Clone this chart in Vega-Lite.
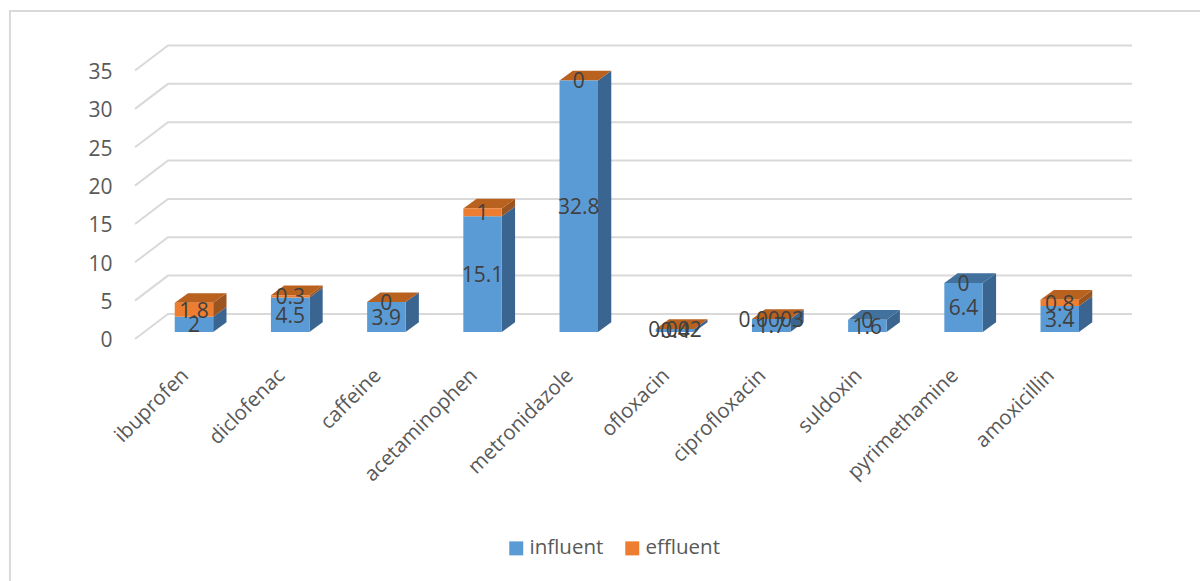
{
  "$schema": "https://vega.github.io/schema/vega-lite/v6.json",
  "width": 997,
  "height": 293,
  "autosize": "none",
  "padding": {"left": 135, "top": 46, "right": 68, "bottom": 242},
  "background": "white",
  "config": {"font": "Open Sans", "view": {"stroke": null}},
  "data": {"values": [
    {"drug": "ibuprofen", "order": 0, "series": "influent", "value": 2},
    {"drug": "ibuprofen", "order": 0, "series": "effluent", "value": 1.8},
    {"drug": "diclofenac", "order": 1, "series": "influent", "value": 4.5},
    {"drug": "diclofenac", "order": 1, "series": "effluent", "value": 0.3},
    {"drug": "caffeine", "order": 2, "series": "influent", "value": 3.9},
    {"drug": "caffeine", "order": 2, "series": "effluent", "value": 0},
    {"drug": "acetaminophen", "order": 3, "series": "influent", "value": 15.1},
    {"drug": "acetaminophen", "order": 3, "series": "effluent", "value": 1},
    {"drug": "metronidazole", "order": 4, "series": "influent", "value": 32.8},
    {"drug": "metronidazole", "order": 4, "series": "effluent", "value": 0},
    {"drug": "ofloxacin", "order": 5, "series": "influent", "value": 0.4},
    {"drug": "ofloxacin", "order": 5, "series": "effluent", "value": 0.002},
    {"drug": "ciprofloxacin", "order": 6, "series": "influent", "value": 1.7},
    {"drug": "ciprofloxacin", "order": 6, "series": "effluent", "value": 0.0003},
    {"drug": "suldoxin", "order": 7, "series": "influent", "value": 1.6},
    {"drug": "suldoxin", "order": 7, "series": "effluent", "value": 0},
    {"drug": "pyrimethamine", "order": 8, "series": "influent", "value": 6.4},
    {"drug": "pyrimethamine", "order": 8, "series": "effluent", "value": 0},
    {"drug": "amoxicillin", "order": 9, "series": "influent", "value": 3.4},
    {"drug": "amoxicillin", "order": 9, "series": "effluent", "value": 0.8}
  ]},
  "encoding": {
    "x": {
      "field": "xpos",
      "type": "quantitative",
      "scale": {"domain": [-0.613, 9.751], "nice": false, "zero": false},
      "axis": {
        "title": null,
        "values": [0, 1, 2, 3, 4, 5, 6, 7, 8, 9],
        "labelExpr": "['ibuprofen','diclofenac','caffeine','acetaminophen','metronidazole','ofloxacin','ciprofloxacin','suldoxin','pyrimethamine','amoxicillin'][datum.value]",
        "labelAngle": -45,
        "labelAlign": "right",
        "labelBaseline": "middle",
        "labelPadding": 33,
        "labelOffset": -9,
        "labelFontSize": 20.5,
        "labelColor": "#595959",
        "labelOverlap": false,
        "labelBound": false,
        "labelFlush": false,
        "domain": false,
        "ticks": false,
        "grid": false
      }
    },
    "y": {
      "field": "ypos",
      "type": "quantitative",
      "scale": {"domain": [-0.913, 37.288], "nice": false, "zero": false},
      "axis": {
        "title": null,
        "values": [0, 5, 10, 15, 20, 25, 30, 35],
        "labelPadding": 23,
        "labelOffset": 9,
        "labelFontSize": 21,
        "labelColor": "#595959",
        "labelOverlap": false,
        "labelBound": false,
        "labelFlush": false,
        "domain": false,
        "ticks": false,
        "grid": false
      }
    }
  },
  "layer": [
    {
      "description": "Chart frame, open at the right and bottom",
      "data": {"values": [{"corner": 0}, {"corner": 1}, {"corner": 2}]},
      "transform": [
        {"calculate": "[-1.913, -1.913, 10.46][datum.corner]", "as": "xpos"},
        {"calculate": "[-32.46, 41.85, 41.85][datum.corner]", "as": "ypos"}
      ],
      "mark": {"type": "line", "stroke": "#D9D9D9", "strokeWidth": 2, "clip": false},
      "encoding": {"order": {"field": "corner"}}
    },
    {
      "description": "Gridlines running along the side wall and then the back wall",
      "data": {"values": [{"tick": 0}, {"tick": 5}, {"tick": 10}, {"tick": 15}, {"tick": 20}, {"tick": 25}, {"tick": 30}, {"tick": 35}]},
      "transform": [
        {"calculate": "[0, 1, 2]", "as": "corner"},
        {"flatten": ["corner"]},
        {"calculate": "[-0.613, -0.27, 9.751][datum.corner]", "as": "xpos"},
        {"calculate": "datum.tick + [-0.913, 2.35, 2.35][datum.corner]", "as": "ypos"}
      ],
      "mark": {"type": "line", "stroke": "#D9D9D9", "strokeWidth": 2},
      "encoding": {
        "detail": {"field": "tick"},
        "order": {"field": "corner"}
      }
    },
    {
      "description": "Stacked blocks: front, side and top faces plus value labels",
      "transform": [
        {"stack": "value", "groupby": ["drug"], "sort": [{"field": "series", "order": "descending"}], "as": ["low", "high"]}
      ],
      "encoding": {
        "color": {
          "field": "face",
          "type": "nominal",
          "scale": {
            "domain": ["influent", "effluent", "influent side", "effluent side", "influent top", "effluent top"],
            "range": ["#5B9BD5", "#ED7D31", "#3A6590", "#9C5421", "#41719C", "#B9611F"]
          },
          "legend": {
            "title": null,
            "values": ["influent", "effluent"],
            "orient": "none",
            "direction": "horizontal",
            "legendX": 371,
            "legendY": 492,
            "symbolType": "square",
            "symbolSize": 196,
            "symbolStrokeWidth": 0,
            "symbolOpacity": 1,
            "labelFontSize": 20.5,
            "labelColor": "#595959",
            "labelOffset": 3,
            "columnPadding": 18
          }
        }
      },
      "layer": [
        {
          "transform": [
            {"calculate": "datum.series + ' side'", "as": "face"},
            {"calculate": "[0, 1]", "as": "edge"},
            {"flatten": ["edge"]},
            {"calculate": "datum.order + 0.2 + datum.edge * 0.138", "as": "xpos"},
            {"calculate": "datum.low + datum.edge * 1.265", "as": "ypos"},
            {"calculate": "datum.high + datum.edge * 1.265", "as": "ypos2"}
          ],
          "mark": {"type": "area", "orient": "vertical", "opacity": 1},
          "encoding": {
            "y": {"field": "ypos", "type": "quantitative", "stack": null},
            "y2": {"field": "ypos2"},
            "detail": {"field": "drug"}
          }
        },
        {
          "transform": [
            {"filter": "datum.series === (datum.drug === 'suldoxin' || datum.drug === 'pyrimethamine' ? 'influent' : 'effluent')"},
            {"calculate": "datum.series + ' top'", "as": "face"},
            {"calculate": "[0, 1]", "as": "edge"},
            {"flatten": ["edge"]},
            {"calculate": "datum.order - 0.2 + datum.edge * 0.138", "as": "xpos"},
            {"calculate": "datum.order + 0.2 + datum.edge * 0.138", "as": "xpos2"},
            {"calculate": "datum.high + datum.edge * 1.265", "as": "ypos"}
          ],
          "mark": {"type": "area", "orient": "horizontal", "opacity": 1},
          "encoding": {
            "x": {"field": "xpos", "type": "quantitative", "stack": null},
            "x2": {"field": "xpos2"},
            "detail": {"field": "drug"}
          }
        },
        {
          "transform": [
            {"calculate": "datum.series", "as": "face"},
            {"calculate": "datum.order - 0.2", "as": "xpos"},
            {"calculate": "datum.order + 0.2", "as": "xpos2"},
            {"calculate": "datum.low", "as": "ypos"},
            {"calculate": "datum.high", "as": "ypos2"}
          ],
          "mark": {"type": "rect"},
          "encoding": {
            "x2": {"field": "xpos2"},
            "y2": {"field": "ypos2"}
          }
        },
        {
          "transform": [
            {"calculate": "datum.order", "as": "xpos"},
            {"calculate": "(datum.low + datum.high) / 2", "as": "ypos"}
          ],
          "mark": {"type": "text", "fontSize": 21, "dy": 2, "align": "center", "baseline": "middle"},
          "encoding": {
            "text": {"field": "value", "type": "nominal"},
            "color": {"value": "#404040"}
          }
        }
      ]
    }
  ]
}
